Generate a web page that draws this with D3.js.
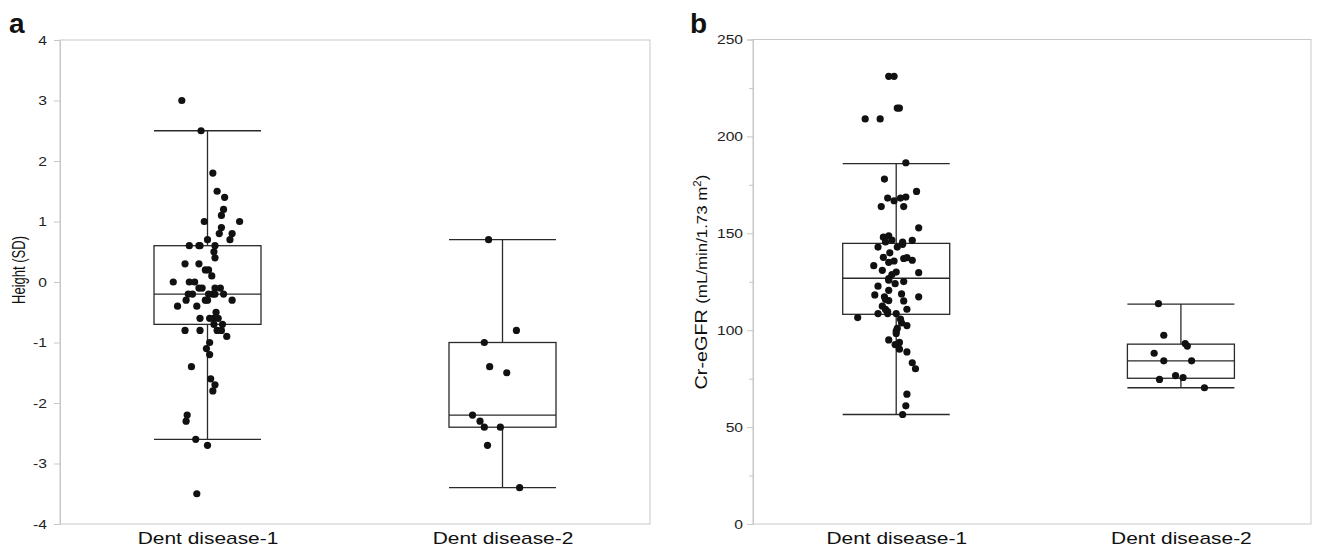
<!DOCTYPE html>
<html>
<head>
<meta charset="utf-8">
<script src="https://cdn.jsdelivr.net/npm/d3@7"></script>
<style>
body { margin: 0; background: #fff; }
text { font-family: "Liberation Sans", Arial, sans-serif; }
</style>
</head>
<body>
<div id="chart-area"></div>
<script>
const canvas_width = 1323;
const canvas_height = 549;
const box_width = 107;
const text_stretch = 1.23;
const frame_color = '#c8c8c8';
const line_color = '#2a2a2a';

const categories = ['Dent disease-1', 'Dent disease-2'];

const height_ticks = [-4, -3, -2, -1, 0, 1, 2, 3, 4];
const egfr_ticks = [0, 50, 100, 150, 200, 250];
const egfr_minor_ticks = [25, 75, 125, 175, 225];

// [lower whisker, Q1, median, Q3, upper whisker]
const height_boxes = [
    [-2.6, -0.7, -0.2, 0.6, 2.5],
    [-3.4, -2.4, -2.2, -1.0, 0.7]
];
const egfr_boxes = [
    [56.5, 108.2, 126.8, 144.8, 186],
    [70.3, 75.2, 84.2, 92.8, 113.5]
];

// [value, jitter in % of box width]
const height_dent1 = [
    [3.0, -24], [2.5, -6], [1.8, 5], [1.5, 9], [1.4, 16], [1.2, 15], [1.1, 13],
    [1.0, -3], [1.0, 30], [0.9, 13], [0.8, 23], [0.8, 11], [0.7, 21], [0.7, 0],
    [0.6, -17], [0.6, -8], [0.6, -7], [0.6, 7], [0.5, 6], [0.4, 7],
    [0.3, -21], [0.3, -8], [0.2, -2], [0.2, 1], [0.1, 4],
    [0.0, -32], [0.0, -17], [0.0, -12],
    [-0.1, -8], [-0.1, -5], [-0.1, 7], [-0.1, 12],
    [-0.2, -18], [-0.2, -14], [-0.2, 1], [-0.2, 5], [-0.2, 7], [-0.2, 15],
    [-0.3, -20], [-0.3, -2], [-0.3, 0], [-0.3, 23],
    [-0.4, -28], [-0.4, -10], [-0.5, 8],
    [-0.6, -7], [-0.6, 2], [-0.6, 6], [-0.6, 10],
    [-0.7, 6], [-0.7, 14],
    [-0.8, -21], [-0.8, -7], [-0.8, 9], [-0.8, 13],
    [-0.9, 18], [-1.0, 2], [-1.1, -1], [-1.2, 2], [-1.4, -15],
    [-1.6, 3], [-1.7, 7], [-1.8, 5], [-2.2, -19], [-2.3, -20],
    [-2.6, -11], [-2.7, 0], [-3.5, -10]
];
const height_dent2 = [
    [0.7, -13], [-0.8, 13], [-1.0, -17], [-1.4, -12], [-1.5, 4],
    [-2.2, -28], [-2.3, -21], [-2.4, -17], [-2.4, -2], [-2.7, -14], [-3.4, 16]
];

const egfr_dent1 = [
    [231, -7], [231, -2], [214.6, 1], [214.6, 3], [209, -29], [209, -15],
    [186.4, 9], [178, -11], [171.6, 19], [168.2, -8], [168.2, 4], [168.7, 9],
    [166.8, -2], [163.8, -14], [163.8, 7], [152.8, 21], [148, -12], [148.7, -7],
    [146.5, -4], [146.3, 15], [145.5, -10], [145.5, 6], [144.3, 6],
    [142.9, -17], [142.9, 1], [139.9, -6], [137.6, -12], [137, 7], [137.4, 10],
    [136.1, 15], [135.7, -2], [135, -7], [133.3, -21], [130.9, -13], [129.7, 21],
    [130, 0], [128.7, -4], [126.6, -7], [125.8, -7], [125.1, 7], [124, -1],
    [122.7, -17], [120.6, -7], [118.7, 5], [118.2, -20], [117.2, 21], [117.2, -11],
    [115.8, -10], [115.3, -7], [115.1, 7], [112.4, -13], [110.8, 10], [110.7, -10],
    [109.6, -8], [108.6, -17], [108.6, -8], [108.6, 0], [106.5, -36], [105.7, 4],
    [103.8, 5], [102.4, 10], [100.9, 1], [99.6, 0], [98.3, 0], [95, -7],
    [93.7, 3], [92.6, -1], [90.2, 3], [88.8, 10], [83.2, 15], [80.1, 18],
    [67, 10], [61, 9], [56.5, 6]
];
const egfr_dent2 = [
    [113.7, -21], [97.4, -16], [93.1, 4], [91.8, 6], [88.1, -25], [84.2, -16],
    [84.2, 10], [76.6, -5], [75.6, 2], [74.6, -20], [70.3, 22]
];

let canvas = d3.select('#chart-area').append('svg')
    .attr('width', canvas_width)
    .attr('height', canvas_height);

// the figure's lettering is wider than the font, widen each label a bit
function widen(selection, k) {
    selection.each(function() {
        let w = this.getComputedTextLength();
        d3.select(this)
            .attr('textLength', w * k)
            .attr('lengthAdjust', 'spacingAndGlyphs');
    });
}

// rotated axis title fitted to a given length along the axis
function fitRotated(text, cx, cy, length) {
    let w = text.node().getComputedTextLength();
    text.attr('transform', `translate(${cx}, ${cy}) rotate(-90) scale(${length / w}, 1)`);
}

function drawPanel(p) {
    let group = canvas.append('g');

    let x = d3.scalePoint()
        .domain(categories)
        .range([p.left, p.right])
        .padding(p.padding)
        .align(p.align);

    let y = d3.scaleLinear()
        .domain(p.domain)
        .range([p.bottom, p.top]);

    let jitter = d3.scaleLinear()
        .domain([-50, 50])
        .range([-box_width / 2, box_width / 2]);

    group.append('rect')
        .attr('x', p.left)
        .attr('y', p.top)
        .attr('width', p.right - p.left)
        .attr('height', p.bottom - p.top)
        .attr('fill', 'none')
        .attr('stroke', frame_color);

    if (p.minor) {
        let minorAxis = group.append('g')
            .attr('transform', `translate(${p.left}, 0)`)
            .call(d3.axisLeft(y).tickValues(p.minor).tickSize(4).tickFormat(''));
        minorAxis.select('.domain').remove();
        minorAxis.selectAll('.tick line').attr('stroke', frame_color);
    }

    let leftAxis = d3.axisLeft(y)
        .tickValues(p.ticks)
        .tickSize(6)
        .tickPadding(p.tick_padding)
        .tickFormat((d) => { return String(d); });

    let yAxis = group.append('g')
        .attr('class', 'left axis')
        .attr('transform', `translate(${p.left}, 0)`)
        .call(leftAxis);
    yAxis.select('.domain').attr('stroke', frame_color);
    yAxis.selectAll('.tick line').attr('stroke', frame_color);
    yAxis.selectAll('.tick text')
        .attr('font-size', '12.5px')
        .attr('fill', '#222')
        .call(widen, 1.25);

    let xAxis = group.append('g')
        .attr('class', 'bottom axis')
        .attr('transform', `translate(0, ${p.bottom})`)
        .call(d3.axisBottom(x).tickSize(0).tickPadding(8));
    xAxis.select('.domain').remove();
    xAxis.selectAll('.tick text')
        .attr('font-size', '17px')
        .attr('fill', '#111')
        .call(widen, text_stretch);

    p.boxes.forEach((b, i) => {
        let cx = x(categories[i]);
        let x0 = cx - box_width / 2;
        let x1 = cx + box_width / 2;

        group.append('line')
            .attr('x1', cx).attr('x2', cx)
            .attr('y1', y(b[0])).attr('y2', y(b[4]))
            .attr('stroke', line_color).attr('stroke-width', 1.3);
        [b[0], b[4]].forEach((v) => {
            group.append('line')
                .attr('x1', x0).attr('x2', x1)
                .attr('y1', y(v)).attr('y2', y(v))
                .attr('stroke', line_color).attr('stroke-width', 1.3);
        });
        group.append('rect')
            .attr('x', x0)
            .attr('y', y(b[3]))
            .attr('width', box_width)
            .attr('height', y(b[1]) - y(b[3]))
            .attr('fill', '#fff')
            .attr('stroke', line_color).attr('stroke-width', 1.3);
        group.append('line')
            .attr('x1', x0).attr('x2', x1)
            .attr('y1', y(b[2])).attr('y2', y(b[2]))
            .attr('stroke', line_color).attr('stroke-width', 1.3);
    });

    p.points.forEach((pts, i) => {
        let cx = x(categories[i]);
        group.selectAll(null).data(pts).enter().append('circle')
            .attr('cx', (d) => { return cx + jitter(d[1]); })
            .attr('cy', (d) => { return y(d[0]); })
            .attr('r', 3.6)
            .attr('fill', '#111');
    });

    group.append('text')
        .attr('x', p.letter_x)
        .attr('y', 33)
        .attr('font-size', '28px')
        .attr('font-weight', 'bold')
        .attr('fill', '#111')
        .text(p.letter);

    return { x: x, y: y, group: group };
}

let panelA = drawPanel({
    left: 60, right: 650, top: 40, bottom: 524,
    domain: [-4, 4], ticks: height_ticks, tick_padding: 7,
    padding: 0.5, align: 0.5,
    boxes: height_boxes, points: [height_dent1, height_dent2],
    letter: 'a', letter_x: 9
});

let heightLabel = panelA.group.append('text')
    .attr('text-anchor', 'middle')
    .attr('font-size', '18px')
    .attr('fill', '#111')
    .text('Height (SD)');
fitRotated(heightLabel, 25, 270, 68);

let panelB = drawPanel({
    left: 753, right: 1311, top: 39.5, bottom: 524,
    domain: [0, 250], ticks: egfr_ticks, minor: egfr_minor_ticks, tick_padding: 4,
    padding: 0.48, align: 0.524,
    boxes: egfr_boxes, points: [egfr_dent1, egfr_dent2],
    letter: 'b', letter_x: 690
});

let egfrLabel = panelB.group.append('text')
    .attr('text-anchor', 'middle')
    .attr('fill', '#111');
egfrLabel.append('tspan').attr('font-size', '17px').text('Cr-eGFR ');
egfrLabel.append('tspan').attr('font-size', '14.5px').text('(mL/min/1.73 m');
egfrLabel.append('tspan').attr('font-size', '10px').attr('dy', '-6').text('2');
egfrLabel.append('tspan').attr('font-size', '14.5px').attr('dy', '6').text(')');
fitRotated(egfrLabel, 707, 282, 215);
</script>
</body>
</html>
